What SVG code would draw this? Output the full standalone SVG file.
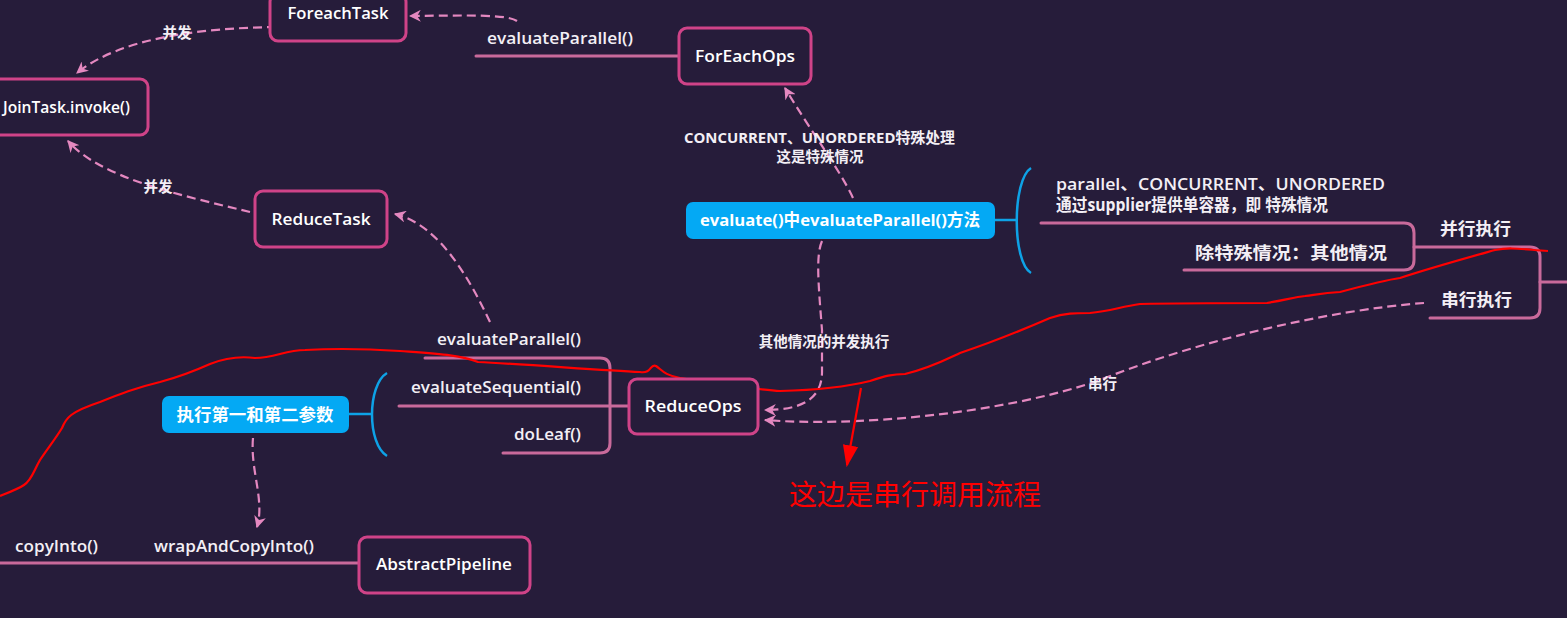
<svg xmlns="http://www.w3.org/2000/svg" width="1567" height="618" viewBox="0 0 1567 618">
<defs>
<style>
.bg{fill:#261c3a}
.node{fill:#261c3a;stroke:#cf4388;stroke-width:3}
.blue{fill:#04a9f4}
.nt{font-family:"Open Sans","Noto Sans CJK SC",sans-serif;font-size:16.5px;font-weight:600;fill:#ffffff;text-anchor:middle}
.bt{font-family:"Open Sans","Noto Sans CJK SC",sans-serif;font-size:16.5px;font-weight:700;fill:#ffffff;text-anchor:middle}
.lb{font-family:"Open Sans","Noto Sans CJK SC",sans-serif;font-size:16px;font-weight:600;fill:#f3eff5}
.cj{font-family:"Open Sans","Noto Sans CJK SC",sans-serif;font-size:17px;font-weight:700;fill:#f3eff5}
.sm{font-family:"Open Sans","Noto Sans CJK SC",sans-serif;font-size:14.5px;font-weight:700;fill:#f3eff5}
.br{fill:none;stroke:#c96a9b;stroke-width:3;stroke-linecap:round}
.bb{fill:none;stroke:#0ea2e6;stroke-width:2.5}
.dash{fill:none;stroke:#e488c0;stroke-width:2.2;stroke-dasharray:9 5}
.red{fill:none;stroke:#ff0000;stroke-width:2.2;stroke-linejoin:round}
</style>
<marker id="arr" viewBox="0 0 10 10" refX="9" refY="5" markerWidth="12" markerHeight="12" markerUnits="userSpaceOnUse" orient="auto">
<path d="M0,0 L10,5 L0,10 L3,5 z" fill="#e488c0"/>
</marker>
<marker id="rarr" viewBox="0 0 10 10" refX="9" refY="5" markerWidth="22" markerHeight="22" markerUnits="userSpaceOnUse" orient="auto">
<path d="M0,1.5 L10,5 L0,8.5 z" fill="#ff0000"/>
</marker>
</defs>
<rect class="bg" x="0" y="0" width="1567" height="618"/>

<g id="connectors">
<path class="br" d="M476,56 L679,56"/>
<path class="br" d="M425,358 L600,358 Q610,358 610,368 L610,443 Q610,453 600,453 L503,453"/>
<path class="br" d="M399,406 L629,406"/>
<path class="br" d="M0,563 L359,563"/>
<path class="br" d="M1041,223 L1404,223 Q1414,223 1414,233 L1414,260 Q1414,270 1404,270 L1184,270"/>
<path class="br" d="M1414,247 L1530,247 Q1540,247 1540,257 L1540,308 Q1540,318 1530,318 L1430,318"/>
<path class="br" d="M1540,282 L1567,282"/>
<path class="bb" d="M995,220 L1016,220"/>
<path class="bb" d="M1031,168 C1012,180 1012,262 1031,273"/>
<path class="bb" d="M349,414 L371,414"/>
<path class="bb" d="M387,373 C367,385 367,444 387,456"/>

<path class="dash" marker-end="url(#arr)" d="M517,21 C508,15 480,15 410,16"/>
<path class="dash" marker-end="url(#arr)" d="M276,27 C200,28 120,38 77,73"/>
<path class="dash" marker-end="url(#arr)" d="M250,212 C180,195 100,178 68,141"/>
<path class="dash" marker-end="url(#arr)" d="M490,322 C470,280 440,225 395,214"/>
<path class="dash" marker-end="url(#arr)" d="M853,198 C840,170 810,130 785,88"/>
<path class="dash" marker-end="url(#arr)" d="M822,241 C816,255 818,280 822,330 L822,372 C822,400 800,410 765,410"/>
<path class="dash" marker-end="url(#arr)" d="M1424,303 C1330,310 1200,340 1100,380 C1000,415 850,427 765,420"/>
<path class="dash" marker-end="url(#arr)" d="M253,438 C250,470 265,500 257,527"/>

<path class="red" d="M0,496 C10,492 18,489 24,485 C32,480 34,470 40,460 C48,448 56,438 62,428 C66,418 70,412 100,402 C120,394 135,388 160,382 C175,378 190,373 210,364 C225,358 240,356 255,358 C275,358 285,350 305,350 C340,348 370,349 400,351 C440,354 460,355 478,362 C520,364 600,370 640,372 C652,374 650,363 656,366 C662,370 664,375 680,378 C720,384 760,390 780,391 C820,390 850,386 870,381 C885,376 892,374 905,374 C930,368 945,360 960,353 C990,343 1020,331 1050,318 C1065,313 1075,313 1090,313 C1110,311 1120,307 1140,304 C1180,303 1230,303 1267,303 C1285,300 1295,297 1305,296 C1320,294 1325,293 1340,292 C1370,284 1385,280 1400,278 C1430,268 1470,257 1495,250 C1510,247 1520,249 1548,251"/>
<path class="red" marker-end="url(#rarr)" d="M861,388 L847,465"/>
</g>

<g id="n-foreachtask"><rect class="node" x="270" y="-6" width="136" height="47" rx="8"/><text class="nt" x="338" y="19" textLength="101" lengthAdjust="spacingAndGlyphs">ForeachTask</text></g>
<g id="n-jointask"><rect class="node" x="-10" y="79" width="158" height="56" rx="8"/><text class="nt" x="130" y="113" style="text-anchor:end" textLength="127" lengthAdjust="spacingAndGlyphs">JoinTask.invoke()</text></g>
<g id="n-reducetask"><rect class="node" x="255" y="191" width="132" height="56" rx="8"/><text class="nt" x="321" y="225" textLength="99" lengthAdjust="spacingAndGlyphs">ReduceTask</text></g>
<g id="n-foreachops"><rect class="node" x="679" y="28" width="132" height="56" rx="8"/><text class="nt" x="745" y="62" textLength="100" lengthAdjust="spacingAndGlyphs">ForEachOps</text></g>
<g id="n-reduceops"><rect class="node" x="629" y="379" width="129" height="55" rx="8"/><text class="nt" x="693" y="412" textLength="97" lengthAdjust="spacingAndGlyphs">ReduceOps</text></g>
<g id="n-abstractpipeline"><rect class="node" x="359" y="537" width="171" height="56" rx="8"/><text class="nt" x="444" y="570" textLength="136" lengthAdjust="spacingAndGlyphs">AbstractPipeline</text></g>
<g id="n-evaluate"><rect class="blue" x="686" y="202" width="309" height="37" rx="7"/><text class="bt" x="840" y="226" textLength="280" lengthAdjust="spacingAndGlyphs">evaluate()中evaluateParallel()方法</text></g>
<g id="n-args"><rect class="blue" x="162" y="396" width="187" height="37" rx="7"/><text class="bt" x="255" y="421" textLength="157" lengthAdjust="spacingAndGlyphs">执行第一和第二参数</text></g>

<g id="labels">
<text class="lb" x="487" y="44" textLength="146" lengthAdjust="spacingAndGlyphs">evaluateParallel()</text>
<text class="lb" x="437" y="345" textLength="144" lengthAdjust="spacingAndGlyphs">evaluateParallel()</text>
<text class="lb" x="411" y="393" textLength="170" lengthAdjust="spacingAndGlyphs">evaluateSequential()</text>
<text class="lb" x="514" y="440" textLength="67" lengthAdjust="spacingAndGlyphs">doLeaf()</text>
<text class="lb" x="15" y="552" textLength="83" lengthAdjust="spacingAndGlyphs">copyInto()</text>
<text class="lb" x="154" y="552" textLength="160" lengthAdjust="spacingAndGlyphs">wrapAndCopyInto()</text>
<text class="lb" x="1056" y="190" textLength="329" lengthAdjust="spacingAndGlyphs">parallel、CONCURRENT、UNORDERED</text>
<text class="cj" x="1056" y="211" textLength="272" lengthAdjust="spacingAndGlyphs">通过supplier提供单容器，即 特殊情况</text>
<text class="cj" x="1195" y="259" textLength="192" lengthAdjust="spacingAndGlyphs">除特殊情况：其他情况</text>
<text class="cj" x="1440" y="235" textLength="71" lengthAdjust="spacingAndGlyphs">并行执行</text>
<text class="cj" x="1441" y="306" textLength="71" lengthAdjust="spacingAndGlyphs">串行执行</text>
<text class="sm" x="684" y="143" textLength="271" lengthAdjust="spacingAndGlyphs">CONCURRENT、UNORDERED特殊处理</text>
<text class="sm" x="820" y="162" text-anchor="middle">这是特殊情况</text>
<text class="sm" x="824" y="347" text-anchor="middle">其他情况的并发执行</text>
<text class="sm" x="1088" y="389">串行</text>
<text class="sm" x="177" y="38" text-anchor="middle">并发</text>
<text class="sm" x="158" y="192" text-anchor="middle">并发</text>
<text x="789" y="505" style="font-family:'Noto Sans CJK SC',sans-serif;font-size:28px;fill:#ff0000">这边是串行调用流程</text>
</g>
</svg>
